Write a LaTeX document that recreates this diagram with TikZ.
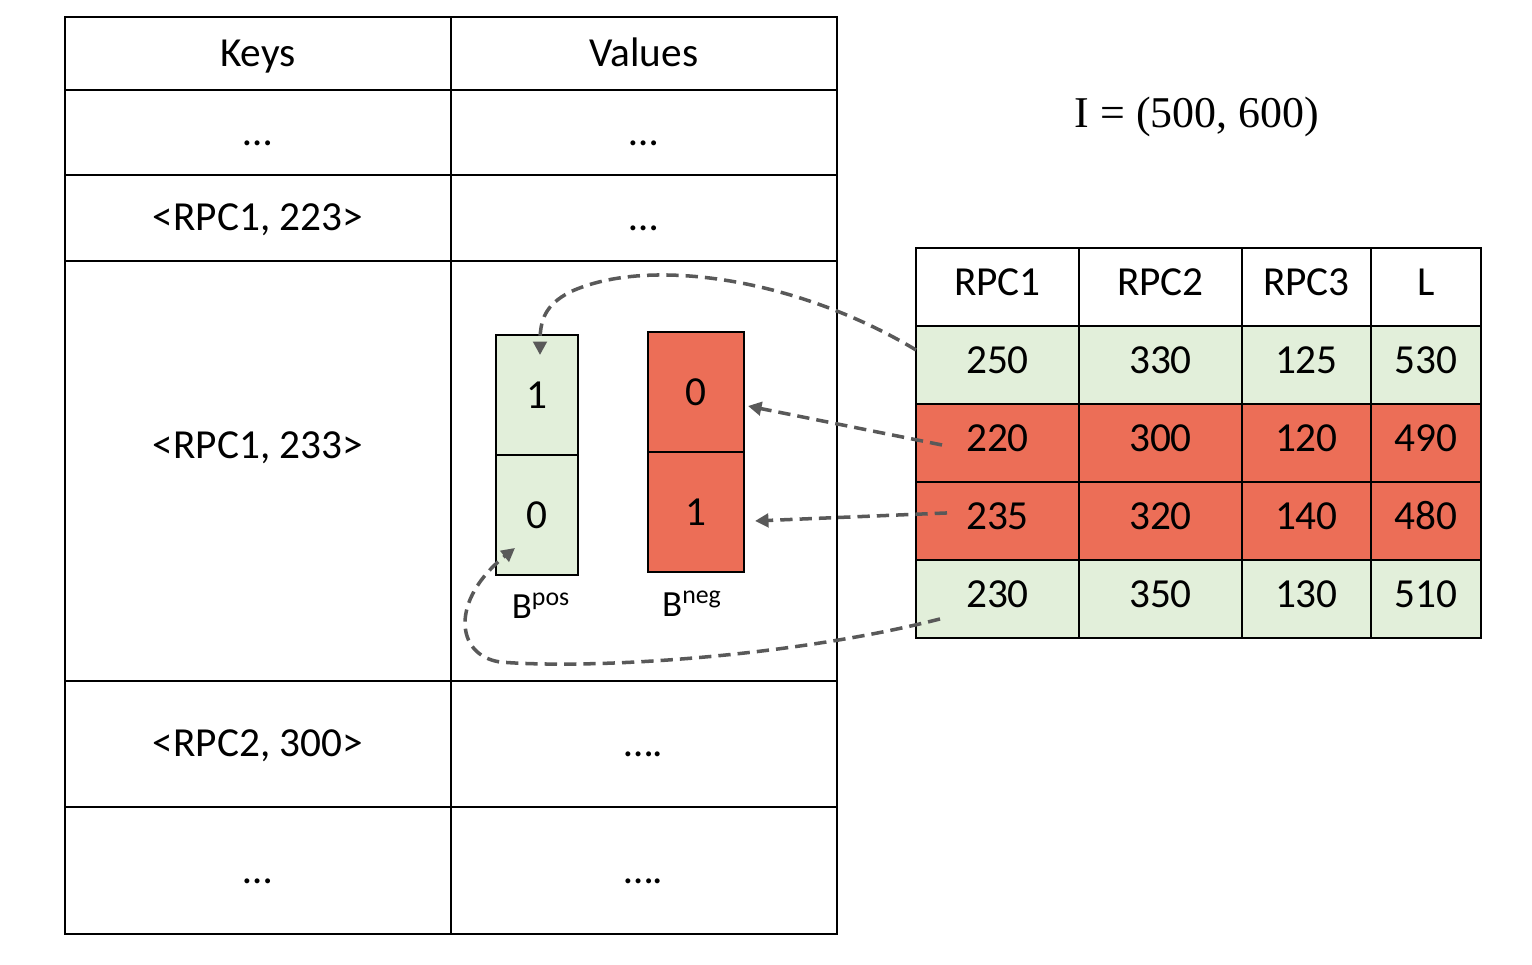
\documentclass[tikz,border=0pt]{standalone}
\usepackage{fontspec}
\setmainfont{Carlito}
\newfontfamily\eqfont{Liberation Serif}
\usepackage{xcolor}
\definecolor{cGreen}{HTML}{E2EFDA}
\definecolor{cRed}{HTML}{EC6E57}
\definecolor{cLink}{HTML}{595959}
\usetikzlibrary{positioning,arrows.meta,calc}
\tikzset{
  cell/.style={draw=black,line width=1.1pt,inner sep=0pt,outer sep=0pt,
    align=center,font=\fontsize{23.5}{28}\selectfont},
  map-cell/.style={cell,minimum width=7.72cm,text height=0.6cm,text depth=0.08cm},
  rpc-cell/.style={cell,minimum height=1.56cm,text height=0.55cm,text depth=0.19cm},
  col-wide/.style={minimum width=3.26cm},
  col-mid/.style={minimum width=2.58cm},
  col-narrow/.style={minimum width=2.2cm},
  cell-pos/.style={fill=cGreen},
  cell-neg/.style={fill=cRed},
  bit-pos/.style={cell,cell-pos,minimum width=1.64cm,minimum height=2.4cm},
  bit-neg/.style={cell,cell-neg,minimum width=1.92cm,minimum height=2.4cm},
  bit-name/.style={font=\fontsize{21}{25}\selectfont},
  arrow-link/.style={-{Triangle[length=2.7mm,width=2.7mm]},line width=2pt,
    draw=cLink,dash pattern=on 7pt off 4pt},
}

\begin{document}
\begin{tikzpicture}[x=0.02cm,y=-0.02cm]
  \useasboundingbox (0,0) rectangle (1532,964);
  % key/value map
  \node[map-cell,minimum height=1.46cm,anchor=north west] (keys) at (65,17) {Keys};
  \node[map-cell,minimum height=1.46cm,right=0pt of keys] (vals) {Values};
  \node[map-cell,minimum height=1.70cm,below=0pt of keys] (key-a) {…};
  \node[map-cell,minimum height=1.70cm,right=0pt of key-a] (val-a) {…};
  \node[map-cell,minimum height=1.72cm,below=0pt of key-a] (key-b) {<RPC1, 223>};
  \node[map-cell,minimum height=1.72cm,right=0pt of key-b] (val-b) {…};
  \node[map-cell,minimum height=8.40cm,text height=0.4cm,text depth=0.88cm,below=0pt of key-b] (key-c) {<RPC1, 233>};
  \node[map-cell,minimum height=8.40cm,right=0pt of key-c] (val-c) {};
  \node[map-cell,minimum height=2.52cm,below=0pt of key-c] (key-d) {<RPC2, 300>};
  \node[map-cell,minimum height=2.52cm,right=0pt of key-d] (val-d) {….};
  \node[map-cell,minimum height=2.54cm,below=0pt of key-d] (key-e) {…};
  \node[map-cell,minimum height=2.54cm,right=0pt of key-e] (val-e) {….};
  % bit vectors
  \node[bit-pos,anchor=north west] (pos-one) at (496,335) {1};
  \node[bit-pos,below=0pt of pos-one] (pos-zero) {0};
  \node[bit-neg,anchor=north west] (neg-zero) at (648,332) {0};
  \node[bit-neg,below=0pt of neg-zero] (neg-one) {1};
  \node[bit-name] (pos-name) at (541,606) {B\textsuperscript{pos}};
  \node[bit-name] (neg-name) at (692,604) {B\textsuperscript{neg}};
  % interval
  \node[font=\eqfont\fontsize{25}{30}\selectfont] (range) at (1197,117) {I = (500, 600)};
  % samples
  \node[rpc-cell,col-wide,anchor=north west] (h1) at (916,248) {RPC1};
  \node[rpc-cell,col-wide,right=0pt of h1] (h2) {RPC2};
  \node[rpc-cell,col-mid,right=0pt of h2] (h3) {RPC3};
  \node[rpc-cell,col-narrow,right=0pt of h3] (h4) {L};
  \node[rpc-cell,col-wide,cell-pos,below=0pt of h1] (a1) {250};
  \node[rpc-cell,col-wide,cell-pos,right=0pt of a1] (a2) {330};
  \node[rpc-cell,col-mid,cell-pos,right=0pt of a2] (a3) {125};
  \node[rpc-cell,col-narrow,cell-pos,right=0pt of a3] (a4) {530};
  \node[rpc-cell,col-wide,cell-neg,below=0pt of a1] (b1) {220};
  \node[rpc-cell,col-wide,cell-neg,right=0pt of b1] (b2) {300};
  \node[rpc-cell,col-mid,cell-neg,right=0pt of b2] (b3) {120};
  \node[rpc-cell,col-narrow,cell-neg,right=0pt of b3] (b4) {490};
  \node[rpc-cell,col-wide,cell-neg,below=0pt of b1] (c1) {235};
  \node[rpc-cell,col-wide,cell-neg,right=0pt of c1] (c2) {320};
  \node[rpc-cell,col-mid,cell-neg,right=0pt of c2] (c3) {140};
  \node[rpc-cell,col-narrow,cell-neg,right=0pt of c3] (c4) {480};
  \node[rpc-cell,col-wide,cell-pos,below=0pt of c1] (d1) {230};
  \node[rpc-cell,col-wide,cell-pos,right=0pt of d1] (d2) {350};
  \node[rpc-cell,col-mid,cell-pos,right=0pt of d2] (d3) {130};
  \node[rpc-cell,col-narrow,cell-pos,right=0pt of d3] (d4) {510};
  % links
  \draw[arrow-link] ($(a1.west)+(0,-15)$) .. controls (800,280) and (650,255) .. (570,292)
    .. controls (545,305) and (540,320) .. ($(pos-one.north)+(3,20)$);
  \draw[arrow-link] ($(b1.west)+(26,2)$) -- ($(neg-zero.east)+(4,14)$);
  \draw[arrow-link] ($(c1.west)+(31,-8)$) -- ($(neg-one.east)+(11,9)$);
  \draw[arrow-link] ($(d1.west)+(24,20)$) .. controls (800,655) and (600,670) .. (500,662)
    .. controls (455,655) and (450,600) .. ($(pos-zero.south)+(-22,-27)$);
\end{tikzpicture}
\end{document}
